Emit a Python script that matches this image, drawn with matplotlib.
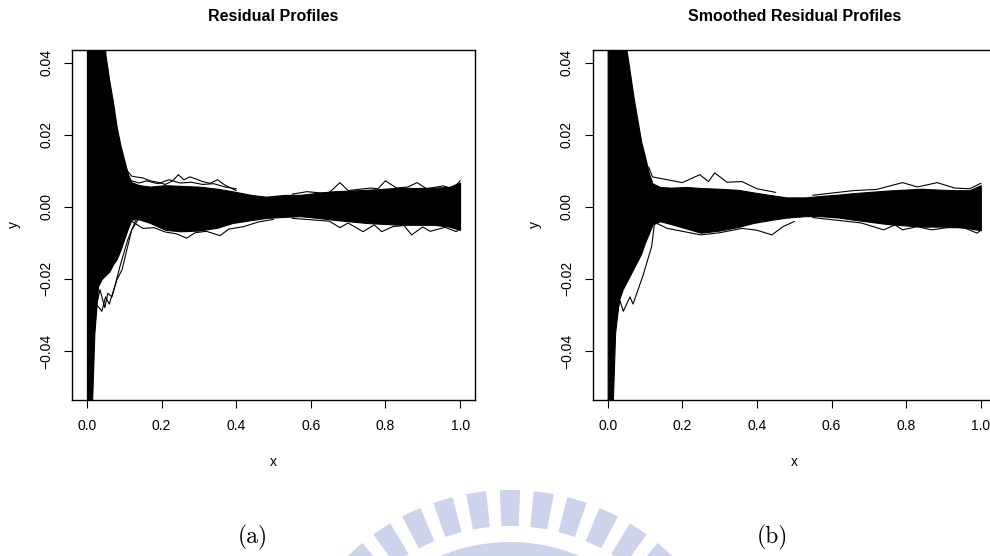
import matplotlib
matplotlib.use("Agg")
import matplotlib.pyplot as plt
from matplotlib.patches import Wedge

plt.rcParams['font.family'] = ['Liberation Sans', 'DejaVu Sans']

# envelope of the dense bundle of profiles
env_x = [0.0, 0.004, 0.012, 0.02, 0.03, 0.04, 0.05, 0.06, 0.07, 0.08, 0.09, 0.10, 0.11,
         0.12, 0.14, 0.17, 0.21, 0.25, 0.30, 0.35, 0.39, 0.44, 0.48, 0.53, 0.57, 0.62,
         0.66, 0.75, 0.84, 0.88, 0.93, 0.97, 1.0]

raw_upper = [0.06, 0.07, 0.07, 0.07, 0.065, 0.055, 0.042, 0.035, 0.029, 0.022, 0.017, 0.013, 0.009,
             0.0068, 0.006, 0.0056, 0.006, 0.0058, 0.0056, 0.005, 0.0043, 0.0033, 0.0028, 0.0033, 0.0033, 0.0039,
             0.0043, 0.0047, 0.0053, 0.0052, 0.0053, 0.0055, 0.0067]
raw_lower = [-0.06, -0.07, -0.06, -0.035, -0.022, -0.02, -0.019, -0.018, -0.016, -0.0145, -0.012, -0.009, -0.006,
             -0.0035, -0.0035, -0.0045, -0.0064, -0.0068, -0.0066, -0.0058, -0.0045, -0.0037, -0.0031, -0.0028, -0.0026, -0.0031,
             -0.0036, -0.0045, -0.005, -0.005, -0.005, -0.0055, -0.0064]

smooth_upper = [0.06, 0.07, 0.07, 0.07, 0.065, 0.055, 0.044, 0.037, 0.030, 0.024, 0.018, 0.014, 0.0095,
                0.0065, 0.0055, 0.0053, 0.0055, 0.0052, 0.005, 0.0047, 0.004, 0.0032, 0.0026, 0.0026, 0.003, 0.0034,
                0.0038, 0.0045, 0.005, 0.0048, 0.0046, 0.0046, 0.006]
smooth_lower = [-0.06, -0.07, -0.06, -0.035, -0.026, -0.023, -0.021, -0.019, -0.017, -0.015, -0.013, -0.01, -0.0075,
                -0.005, -0.004, -0.0048, -0.006, -0.0072, -0.0066, -0.0056, -0.0045, -0.0036, -0.003, -0.0026, -0.0026, -0.003,
                -0.0036, -0.0048, -0.0055, -0.0055, -0.0055, -0.006, -0.0065]

# single profiles sticking out of the bundle (raw residuals)
raw_out_x = [
    [0.10, 0.12, 0.13, 0.15, 0.17, 0.19, 0.21, 0.23, 0.245, 0.26, 0.276, 0.29, 0.31, 0.33, 0.35, 0.37, 0.40],
    [0.55, 0.59, 0.63, 0.65, 0.678, 0.70, 0.76, 0.78, 0.80, 0.83, 0.86, 0.885, 0.91, 0.955, 0.98, 1.0],
    [0.12, 0.15, 0.18, 0.21, 0.24, 0.267, 0.29, 0.32, 0.357, 0.38, 0.42, 0.46, 0.50],
    [0.55, 0.6, 0.65, 0.678, 0.70, 0.74, 0.77, 0.79, 0.82, 0.85, 0.87, 0.9, 0.92, 0.96, 0.99, 1.0],
    [0.02, 0.035, 0.048, 0.056, 0.067, 0.08, 0.094, 0.12, 0.137],
    [0.01, 0.025, 0.04, 0.05, 0.06, 0.075, 0.09, 0.11, 0.13],
    [0.12, 0.14, 0.16, 0.19, 0.22, 0.25, 0.28, 0.31, 0.34, 0.37, 0.40],
]
raw_out_y = [
    [0.011, 0.0085, 0.0083, 0.008, 0.0072, 0.0068, 0.0062, 0.0072, 0.0089, 0.0075, 0.0083, 0.0078, 0.007, 0.0065, 0.0075, 0.006, 0.0045],
    [0.0035, 0.0042, 0.0038, 0.004, 0.0067, 0.0045, 0.0052, 0.005, 0.0072, 0.0052, 0.0055, 0.0067, 0.005, 0.0058, 0.005, 0.0072],
    [-0.004, -0.006, -0.0058, -0.007, -0.0075, -0.0087, -0.0072, -0.0068, -0.008, -0.0062, -0.0055, -0.0042, -0.0035],
    [-0.0032, -0.0036, -0.004, -0.0058, -0.0045, -0.0069, -0.005, -0.0069, -0.0055, -0.0052, -0.0078, -0.0056, -0.0068, -0.0057, -0.0069, -0.006],
    [-0.03, -0.023, -0.028, -0.024, -0.025, -0.0203, -0.0175, -0.0064, -0.0036],
    [-0.05, -0.027, -0.029, -0.025, -0.027, -0.022, -0.016, -0.009, -0.004],
    [0.0072, 0.0066, 0.0072, 0.0064, 0.0075, 0.0066, 0.0068, 0.0062, 0.0064, 0.0055, 0.005],
]

# single profiles sticking out of the bundle (smoothed residuals)
smooth_out_x = [
    [0.11, 0.12, 0.16, 0.2, 0.247, 0.27, 0.287, 0.32, 0.36, 0.40, 0.45],
    [0.55, 0.60, 0.66, 0.72, 0.79, 0.83, 0.883, 0.93, 0.97, 1.0],
    [0.12, 0.16, 0.2, 0.25, 0.30, 0.36, 0.40, 0.44, 0.47, 0.50],
    [0.55, 0.62, 0.68, 0.74, 0.77, 0.79, 0.83, 0.868, 0.91, 0.955, 0.99, 1.0],
    [0.02, 0.033, 0.042, 0.06, 0.068, 0.095, 0.118, 0.125],
]
smooth_out_y = [
    [0.011, 0.0083, 0.0075, 0.0067, 0.0089, 0.007, 0.0094, 0.0068, 0.007, 0.005, 0.004],
    [0.0032, 0.0038, 0.0045, 0.0048, 0.0067, 0.0055, 0.0067, 0.0052, 0.005, 0.0065],
    [-0.004, -0.006, -0.0068, -0.0078, -0.0072, -0.006, -0.0065, -0.0078, -0.0055, -0.0041],
    [-0.003, -0.0038, -0.0045, -0.0064, -0.005, -0.0064, -0.0055, -0.0064, -0.0058, -0.0058, -0.0073, -0.0065],
    [-0.032, -0.026, -0.029, -0.025, -0.027, -0.019, -0.011, -0.005],
]

titles = ['Residual Profiles', 'Smoothed Residual Profiles']
captions = ['(a)', '(b)']
x_ticks = [0.0, 0.2, 0.4, 0.6, 0.8, 1.0]
y_ticks = [-0.04, -0.02, 0.0, 0.02, 0.04]

fig = plt.figure(figsize=(9.9, 5.56), dpi=100)

# faint logo watermark behind the captions
wm = fig.add_axes([0, 0, 1, 1], zorder=-1)
wm.set_xlim(0, 990)
wm.set_ylim(556, 0)
wm.axis('off')
wm_color = '#ccd3ea'
for k in range(-6, 7):
    a = 270 + k * 8.4
    wm.add_patch(Wedge((510, 722), 232, a - 2.5, a + 2.5, width=36, color=wm_color, lw=0))
wm.add_patch(Wedge((510, 722), 180, 205, 335, width=14, color=wm_color, lw=0))

panels = [
    (0.0727, raw_upper, raw_lower, raw_out_x, raw_out_y),
    (0.5987, smooth_upper, smooth_lower, smooth_out_x, smooth_out_y),
]

for i, (left, up, lo, ox, oy) in enumerate(panels):
    ax = fig.add_axes([left, 0.2806, 0.4071, 0.6295])
    ax.fill_between(env_x, lo, up, color='black', lw=0.8, edgecolor='black')
    for xs, ys in zip(ox, oy):
        ax.plot(xs, ys, color='black', lw=0.8)
    ax.set_xlim(-0.04, 1.04)
    ax.set_ylim(-0.0536, 0.0435)
    ax.set_xticks(x_ticks)
    ax.set_xticklabels(['%.1f' % v for v in x_ticks])
    ax.set_yticks(y_ticks)
    ax.set_yticklabels([('%.2f' % v).replace('-', '\u2212') for v in y_ticks], rotation=90, va='center')
    ax.tick_params(direction='out', length=5.5, width=0.8, labelsize=10, pad=8)
    for s in ax.spines.values():
        s.set_linewidth(1.0)
    ax.set_xlabel('x', fontsize=10)
    ax.xaxis.set_label_coords(0.5, -0.177)
    ax.xaxis.label.set_va('center')
    ax.set_ylabel('y', fontsize=10)
    ax.yaxis.set_label_coords(-0.144, 0.5)
    ax.yaxis.label.set_va('center')
    ax.text(0.5, 1.097, titles[i], transform=ax.transAxes, ha='center', va='center',
            fontsize=11.5, fontweight='bold')

fig.text(253 / 990, 1 - 537 / 556, captions[0], ha='center', va='center', fontsize=17, family='cmr10')
fig.text(772 / 990, 1 - 537 / 556, captions[1], ha='center', va='center', fontsize=17, family='cmr10')

fig.savefig('out.png', dpi=100)
